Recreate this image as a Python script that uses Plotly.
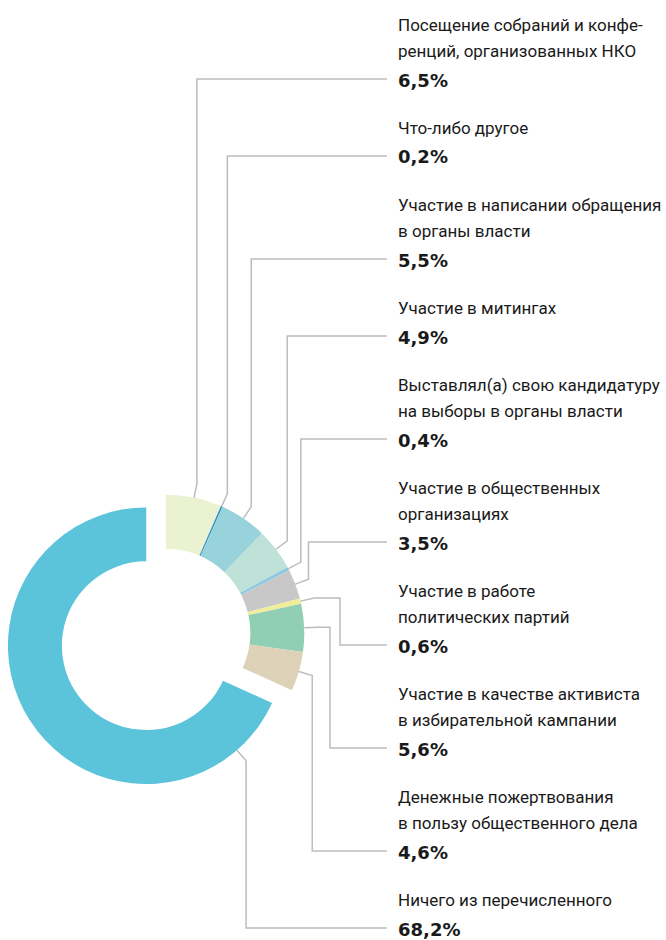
import math
import plotly.graph_objects as go

# data
labels = [
    ["Посещение собраний и конфе-", "ренций, организованных НКО"],
    ["Что-либо другое"],
    ["Участие в написании обращения", "в органы власти"],
    ["Участие в митингах"],
    ["Выставлял(а) свою кандидатуру", "на выборы в органы власти"],
    ["Участие в общественных", "организациях"],
    ["Участие в работе", "политических партий"],
    ["Участие в качестве активиста", "в избирательной кампании"],
    ["Денежные пожертвования", "в пользу общественного дела"],
    ["Ничего из перечисленного"],
]
values = [6.5, 0.2, 5.5, 4.9, 0.4, 3.5, 0.6, 5.6, 4.6, 68.2]
colors = ["#EAF2D1", "#2B8FC8", "#98D2DB", "#BFE2D8", "#8CC8E2",
          "#C8C8C8", "#F0EE9A", "#91CFB5", "#DDD2B8", "#5BC3DA"]

W, H = 666, 940
CX, CY, R = 166, 633, 138.3   # pie centre / radius in px
PULL = 0.17
HOLE = 0.61
TEXT_X = 396
LINE_END = 387
LINE_COLOR = "#BDBDBD"


def px(x):
    return x / W


def py(y):
    return 1 - y / H


half = R * (1 + PULL)
pulls = [0] * (len(values) - 1) + [PULL]

fig = go.Figure(go.Pie(
    values=values,
    labels=[" ".join(l) for l in labels],
    marker=dict(colors=colors, line=dict(width=0)),
    hole=HOLE,
    sort=False,
    direction="clockwise",
    rotation=0,
    pull=pulls,
    textinfo="none",
    hoverinfo="label+percent",
    showlegend=False,
    domain=dict(x=[px(CX - half), px(CX + half)],
                y=[py(CY + half), py(CY - half)]),
))

# label blocks
pct_y = []
y = 80
for i, l in enumerate(labels):
    if i > 0:
        y += 51 + 26 * len(l)
    pct_y.append(y)

annotations = []
for i, l in enumerate(labels):
    n = len(l)
    for j, line in enumerate(l):
        annotations.append(dict(
            x=px(TEXT_X), y=py(pct_y[i] - 29 - 26 * (n - 1 - j)),
            xref="paper", yref="paper", xanchor="left", yanchor="middle",
            text=line, showarrow=False,
            font=dict(family="Liberation Sans Narrow, Arial Narrow, Roboto, sans-serif",
                      size=17, color="#1A1A1A"),
        ))
    pct = f"{values[i]:.1f}".replace(".", ",") + "%"
    annotations.append(dict(
        x=px(TEXT_X), y=py(pct_y[i]),
        xref="paper", yref="paper", xanchor="left", yanchor="middle",
        text=f"<b>{pct}</b>", showarrow=False,
        font=dict(family="DejaVu Sans", size=18, color="#1A1A1A"),
    ))

# leader lines
total = sum(values)
anchor_frac = [0.5] * (len(values) - 1) + [0.1]
columns = {6: 340, 7: 330}
shapes = []
cum = 0
for i, v in enumerate(values):
    a0 = cum / total * 2 * math.pi
    a1 = (cum + v) / total * 2 * math.pi
    cum += v
    mid = (a0 + a1) / 2
    cx, cy = CX, CY
    if pulls[i]:
        cx += pulls[i] * R * math.sin(mid)
        cy -= pulls[i] * R * math.cos(mid)
    ang = a0 + (a1 - a0) * anchor_frac[i]
    sx, sy = cx + R * math.sin(ang), cy - R * math.cos(ang)
    ex, ey = sx + 14 * math.sin(ang), sy - 14 * math.cos(ang)
    pts = [(sx, sy), (ex, ey)]
    colx = columns.get(i, ex)
    if colx != ex:
        pts.append((colx, ey))
    pts.append((colx, pct_y[i] - 1))
    pts.append((LINE_END, pct_y[i] - 1))
    path = "M " + " L ".join(f"{px(a):.5f},{py(b):.5f}" for a, b in pts)
    shapes.append(dict(type="path", path=path, xref="paper", yref="paper",
                       line=dict(color=LINE_COLOR, width=1.5)))

fig.update_layout(
    width=W, height=H,
    margin=dict(l=0, r=0, t=0, b=0),
    paper_bgcolor="white",
    plot_bgcolor="white",
    annotations=annotations,
    shapes=shapes,
)

# drop the default 8px page margin so the figure fills the window
fig.write_html("out.html", config={"displayModeBar": False},
               post_script="document.body.style.margin='0';")
